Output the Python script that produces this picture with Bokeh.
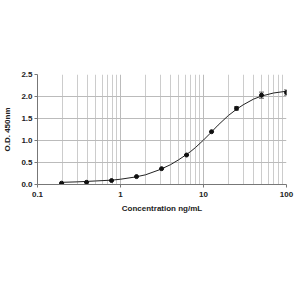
from bokeh.plotting import figure
from bokeh.models import FixedTicker, ColumnDataSource, Whisker, TeeHead, Range1d
from bokeh.embed import file_html
from bokeh.resources import INLINE

conc = [0.195, 0.39, 0.78, 1.56, 3.125, 6.25, 12.5, 25, 50, 100]
od = [0.03, 0.05, 0.09, 0.18, 0.36, 0.67, 1.20, 1.73, 2.03, 2.09]
err = [0.0, 0.0, 0.0, 0.0, 0.0, 0.0, 0.0, 0.04, 0.07, 0.06]

curve_x = [0.2, 0.3, 0.5, 0.8, 1.0, 1.5, 2, 3, 4, 5, 6, 7, 8, 10, 12, 15, 20, 25, 30, 40, 50, 70, 100]
curve_y = [0.05, 0.06, 0.08, 0.10, 0.12, 0.17, 0.22, 0.34, 0.45, 0.56, 0.66, 0.75, 0.84, 1.01, 1.16, 1.35, 1.57, 1.71, 1.81, 1.94, 2.01, 2.08, 2.12]

x_ticks = [0.1, 1, 10, 100]
x_minor = [m * d for d in (0.1, 1, 10) for m in range(2, 10)]
y_ticks = [0.0, 0.5, 1.0, 1.5, 2.0, 2.5]

FONT = "Liberation Sans"

p = figure(width=300, height=300, x_axis_type="log", output_backend="svg",
           toolbar_location=None, x_range=Range1d(0.1, 100), y_range=Range1d(0, 2.5),
           min_border_left=36, min_border_right=14, min_border_top=74, min_border_bottom=0)
p.outline_line_color = None
p.background_fill_color = "white"

p.xaxis.ticker = FixedTicker(ticks=x_ticks, minor_ticks=x_minor)
p.xaxis.major_label_overrides = {0.1: "0.1", 1: "1", 10: "10", 100: "100"}
p.yaxis.ticker = FixedTicker(ticks=y_ticks)
p.yaxis.major_label_overrides = {0.0: "0.0", 0.5: "0.5", 1.0: "1.0", 1.5: "1.5", 2.0: "2.0", 2.5: "2.5"}

for ax in (p.xaxis[0], p.yaxis[0]):
    ax.major_label_text_font = FONT
    ax.major_label_text_font_style = "bold"
    ax.major_label_text_font_size = "8px"
    ax.major_label_text_color = "#222222"
    ax.axis_label_text_font = FONT
    ax.axis_label_text_font_style = "bold"
    ax.axis_label_text_font_size = "8px"
    ax.axis_label_text_color = "#222222"
    ax.axis_line_color = "#777777"
    ax.major_tick_line_color = "#777777"
    ax.major_tick_out = 3
    ax.major_tick_in = 0
    ax.minor_tick_line_color = None

p.xaxis.axis_label = "Concentration ng/mL"
p.yaxis.axis_label = "O.D. 450nm"
p.xaxis.axis_label_standoff = 4
p.yaxis.axis_label_standoff = 6
p.xaxis.major_label_standoff = 3
p.yaxis.major_label_standoff = 2

p.xgrid.grid_line_color = "#bbbbbb"
p.xgrid.minor_grid_line_color = "#cccccc"
p.ygrid.grid_line_color = "#bbbbbb"

p.line(curve_x, curve_y, line_color="#222222", line_width=1)

src = ColumnDataSource(dict(x=conc, y=od, lo=[a - b for a, b in zip(od, err)], hi=[a + b for a, b in zip(od, err)]))
w = Whisker(source=src, base="x", lower="lo", upper="hi", line_color="#666666", line_width=1,
            upper_head=TeeHead(size=5, line_color="#666666"), lower_head=TeeHead(size=5, line_color="#666666"))
p.add_layout(w)
p.scatter("x", "y", source=src, size=4, color="#111111", marker="circle")

p.frame_width = 249
p.frame_height = 110

open("out.html", "w").write(file_html(p, INLINE))
